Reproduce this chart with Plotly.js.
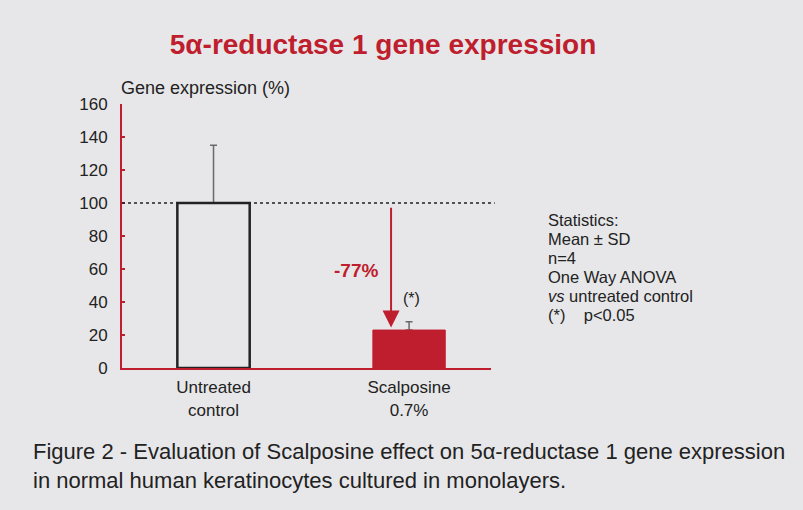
<!DOCTYPE html>
<html>
<head>
<meta charset="utf-8">
<script src="https://cdn.plot.ly/plotly-3.0.1.min.js"></script>
<style>
html,body{margin:0;padding:0;background:#e7e7e9;}
#chart{width:803px;height:510px;}
</style>
</head>
<body>
<div id="chart"></div>
<script>
const categories = ["Untreated<br>control", "Scalposine<br>0.7%"];
const values = [100, 23];
const sdPlus = [35, 5];
const yTicks = [0, 20, 40, 60, 80, 100, 120, 140, 160];
const reductionLabel = "-77%";
const sigLabel = "(*)";
const statsLines = ["Statistics:", "Mean ± SD", "n=4", "One Way ANOVA", "<i>vs</i> untreated control", "(*)    p<0.05"];

const RED = "#be1e2d";
const BG = "#e7e7e9";
const FONT = "Liberation Sans, Arial, sans-serif";
const xIdx = categories.map((c, i) => i);

const traces = [
  { // error bars, drawn underneath the visible bars
    type: "bar", x: xIdx, y: values, width: 0.37,
    marker: {color: "rgba(0,0,0,0)", line: {width: 0}},
    error_y: {
      type: "data", symmetric: false,
      array: sdPlus, arrayminus: [0, 0],
      color: "#6a6a6a", thickness: 1.5, width: 3.5
    },
    hoverinfo: "skip"
  },
  { // visible bars
    type: "bar", x: xIdx, y: values, width: 0.37,
    marker: {
      color: [BG, RED],
      line: {color: ["#222222", RED], width: [2.5, 1]}
    },
    hoverinfo: "skip"
  }
];

const PH = 264; // plot height in px, used to place text in paper units
const statsCenterPx = [220, 239, 258, 277, 296, 315];
const annotations = [
  {xref: "paper", yref: "paper", x: -0.008, y: (368 - 88) / PH, xanchor: "left", yanchor: "middle",
   text: "Gene expression (%)", showarrow: false, font: {size: 18, color: "#222", family: FONT}},
  {xref: "x", yref: "y", x: 0.908, y: 24.5, axref: "x", ayref: "y", ax: 0.908, ay: 98,
   text: "", showarrow: true, arrowhead: 2, arrowsize: 1.7, arrowwidth: 2, arrowcolor: RED, standoff: 0},
  {xref: "x", yref: "y", x: 0.853, y: 59, xanchor: "right", text: "<b>" + reductionLabel + "</b>",
   showarrow: false, font: {size: 19, color: RED, family: FONT}},
  {xref: "x", yref: "y", x: 1.01, y: 42, text: sigLabel, showarrow: false,
   font: {size: 16, color: "#222", family: FONT}},
  {xref: "paper", yref: "paper", x: -0.246, y: -0.262, xanchor: "left", yanchor: "top", align: "left",
   text: "Figure 2 - Evaluation of Scalposine effect on 5α-reductase 1 gene expression<br>in normal human keratinocytes cultured in monolayers.",
   showarrow: false, font: {size: 22, color: "#222", family: FONT}}
];
statsLines.forEach((line, i) => {
  annotations.push({xref: "paper", yref: "paper", x: 1.152, y: (368 - statsCenterPx[i]) / PH,
    xanchor: "left", yanchor: "middle", align: "left", text: line, showarrow: false,
    borderpad: 0, font: {size: 16.5, color: "#222", family: FONT}});
});

const layout = {
  width: 803, height: 510,
  paper_bgcolor: BG, plot_bgcolor: BG,
  margin: {l: 122, r: 312, t: 104, b: 142},
  showlegend: false,
  barmode: "overlay",
  font: {family: FONT, color: "#222"},
  title: {text: "<b>5α-reductase 1 gene expression</b>", x: 0.477, xanchor: "center", y: 0.913, yanchor: "middle",
          font: {size: 28, color: RED, family: FONT}},
  xaxis: {
    range: [-0.468, 1.419], tickvals: xIdx, ticktext: categories,
    showline: true, linecolor: RED, linewidth: 2, ticks: "", showgrid: false, zeroline: false,
    tickfont: {size: 17, color: "#222"}, ticklabelstandoff: 3, fixedrange: true
  },
  yaxis: {
    range: [0, 160], tickvals: yTicks, showline: true, linecolor: RED, linewidth: 2,
    ticks: "inside", ticklen: 3, tickcolor: RED, tickwidth: 1.5, showgrid: false, zeroline: false,
    tickfont: {size: 17, color: "#222"}, ticklabelstandoff: 9, fixedrange: true
  },
  shapes: [{
    type: "line", xref: "paper", yref: "y", x0: 0, x1: 1.01, y0: 100, y1: 100,
    line: {color: "#222", width: 1.5, dash: "dot"}
  }],
  annotations: annotations
};

Plotly.newPlot("chart", traces, layout, {displayModeBar: false, staticPlot: true});
</script>
</body>
</html>
